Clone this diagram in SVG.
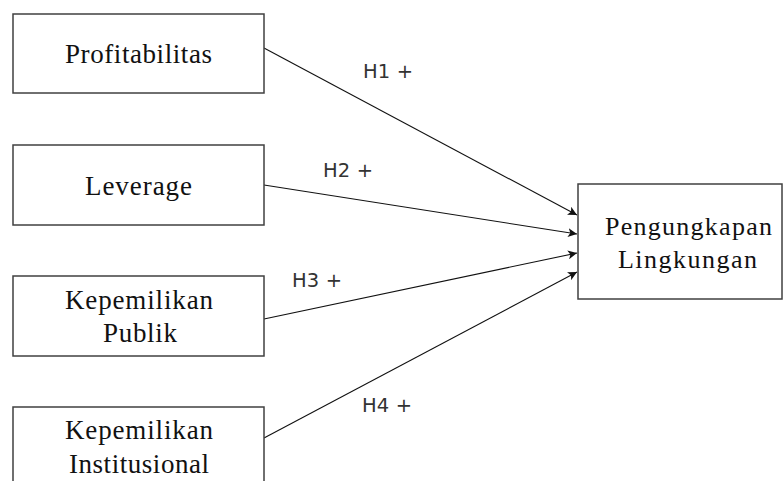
<svg xmlns="http://www.w3.org/2000/svg" width="783" height="481" viewBox="0 0 783 481">
<style>
.box{fill:#fff;stroke:#404040;stroke-width:1.5}
.t{font-family:"Liberation Serif","Times New Roman",serif;font-size:27px;fill:#111;text-anchor:middle}
.tr{font-size:26px}
.lbl{font-family:"DejaVu Sans",Verdana,sans-serif;font-size:19.5px;fill:#333}
.edge{stroke:#111;stroke-width:1.1;fill:none;marker-end:url(#ah)}
</style>
<defs>
<marker id="ah" viewBox="0 0 10 10" refX="10" refY="5" markerWidth="9" markerHeight="9" markerUnits="userSpaceOnUse" orient="auto">
<path d="M0,0 L10,5 L0,10 L2.5,5 Z" fill="#111"/>
</marker>
</defs>
<rect width="783" height="481" fill="#fff"/>
<g id="connectors">
<line class="edge" x1="264" y1="48" x2="577" y2="215"/>
<line class="edge" x1="264" y1="185" x2="577" y2="234"/>
<line class="edge" x1="264" y1="319" x2="577" y2="253"/>
<line class="edge" x1="264" y1="438" x2="577" y2="272"/>
<text class="lbl" x="363" y="78" textLength="50" lengthAdjust="spacing">H1 +</text>
<text class="lbl" x="323" y="177" textLength="50" lengthAdjust="spacing">H2 +</text>
<text class="lbl" x="292" y="287" textLength="50" lengthAdjust="spacing">H3 +</text>
<text class="lbl" x="362" y="412" textLength="50" lengthAdjust="spacing">H4 +</text>
</g>
<g id="profitabilitas">
<rect class="box" x="13" y="14" width="251" height="79"/>
<text class="t" x="138.5" y="63" textLength="147" lengthAdjust="spacing">Profitabilitas</text>
</g>
<g id="leverage">
<rect class="box" x="13" y="145" width="251" height="80"/>
<text class="t" x="138.5" y="195" textLength="107" lengthAdjust="spacing">Leverage</text>
</g>
<g id="kepemilikan-publik">
<rect class="box" x="13" y="276" width="251" height="80"/>
<text class="t" x="139" y="309" textLength="148" lengthAdjust="spacing">Kepemilikan</text>
<text class="t" x="140" y="342" textLength="74" lengthAdjust="spacing">Publik</text>
</g>
<g id="kepemilikan-institusional">
<rect class="box" x="13" y="407" width="251" height="90"/>
<text class="t" x="139" y="439" textLength="148" lengthAdjust="spacing">Kepemilikan</text>
<text class="t" x="139" y="473" textLength="140" lengthAdjust="spacing">Institusional</text>
</g>
<g id="pengungkapan-lingkungan">
<rect class="box" x="578" y="184" width="204" height="115"/>
<text class="t tr" x="688.5" y="235" textLength="167" lengthAdjust="spacing">Pengungkapan</text>
<text class="t tr" x="687.5" y="268" textLength="139" lengthAdjust="spacing">Lingkungan</text>
</g>
</svg>
